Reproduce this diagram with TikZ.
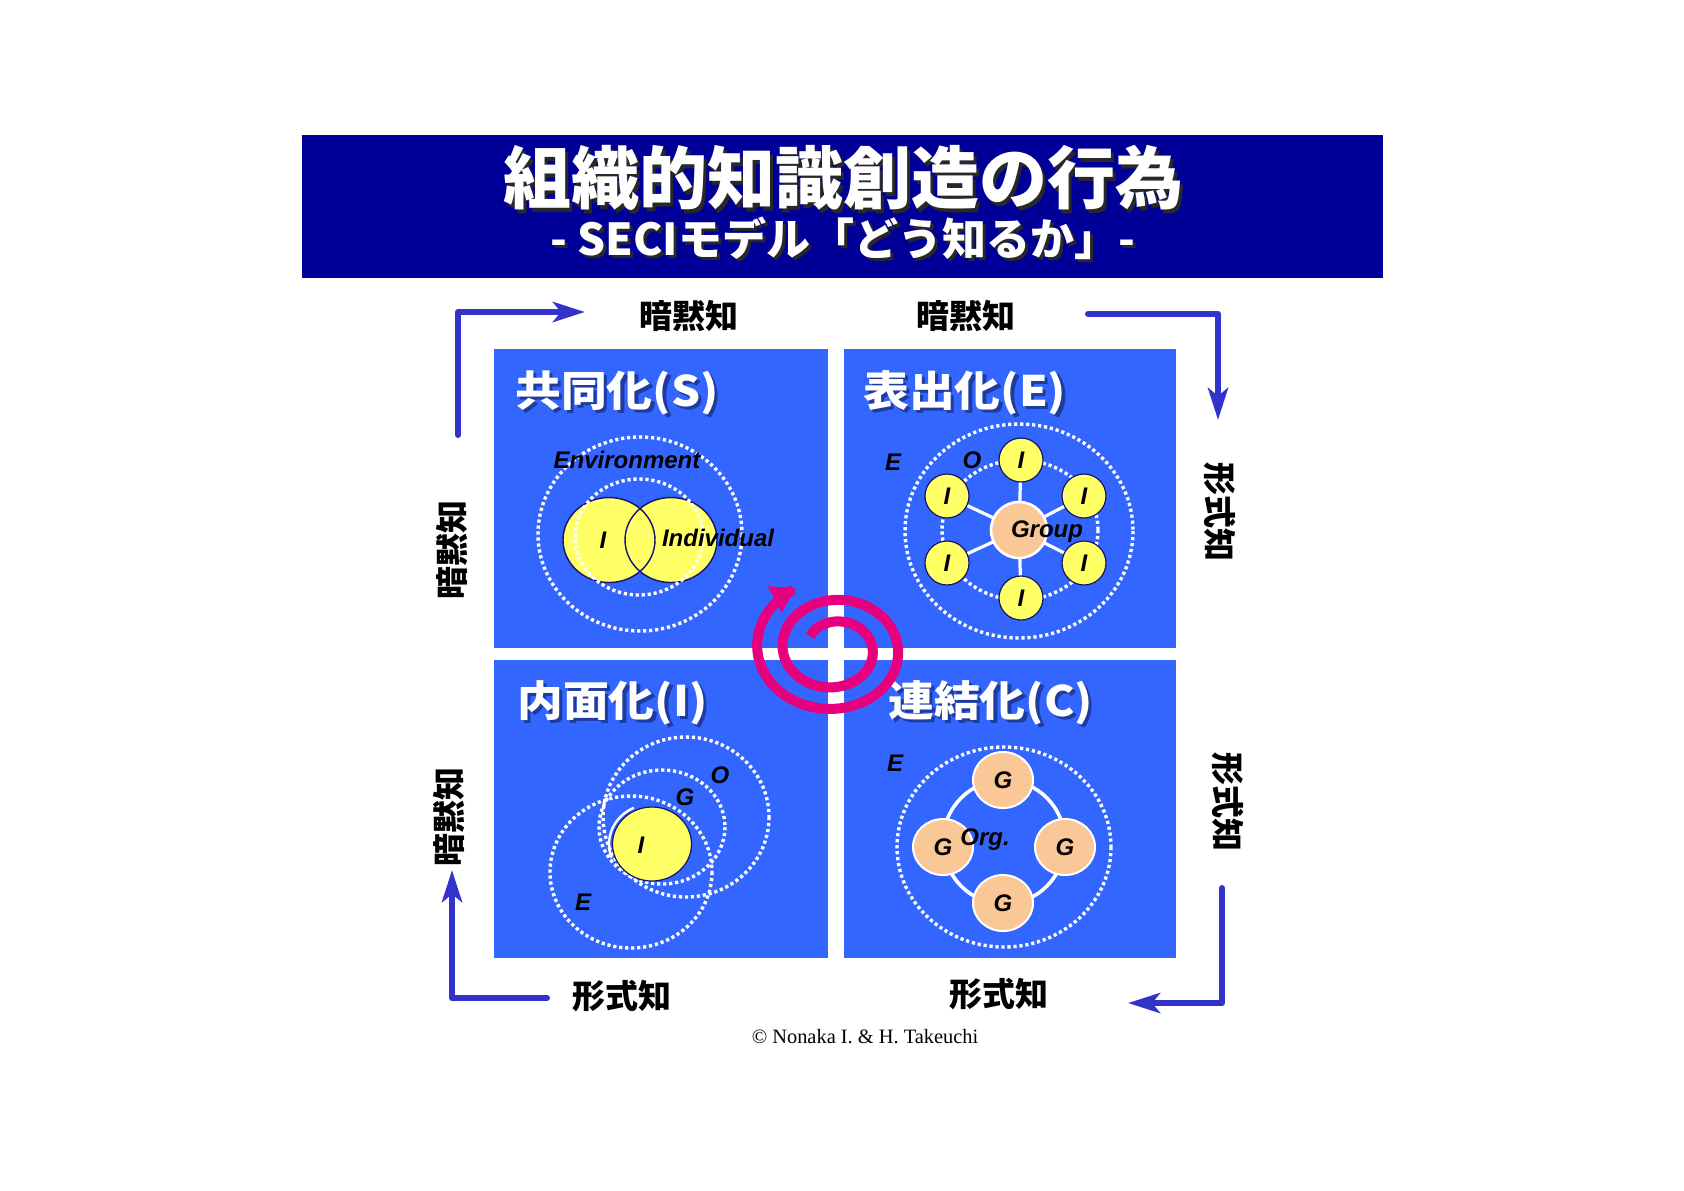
\documentclass[tikz,border=0pt]{standalone}
\usepackage{fontspec}
\setmainfont{Liberation Sans}
\newfontfamily\jp{Noto Sans CJK JP}
\newfontfamily\serifcopy{Liberation Serif}
\usetikzlibrary{arrows.meta,shapes.geometric}
\definecolor{banner}{RGB}{0,0,153}
\definecolor{quadblue}{RGB}{51,102,255}
\definecolor{yel}{RGB}{255,255,102}
\definecolor{peach}{RGB}{250,200,150}
\definecolor{navyline}{RGB}{20,20,110}
\definecolor{arrowblue}{RGB}{51,51,204}
\definecolor{spiralc}{RGB}{230,0,126}
\definecolor{qshadow}{RGB}{30,60,160}
\definecolor{tshadow}{RGB}{40,40,40}
\newcommand\shtext[3]{\makebox[0pt][l]{\hspace*{#1}\raisebox{-#1}{\color{#2}#3}}#3}
\pgfdeclarelayer{back}
\pgfdeclarelayer{mid}
\pgfsetlayers{back,mid,main}
\tikzset{
  quad/.style={fill=quadblue},
  dotring/.style={draw=white, line width=1.7pt, dash pattern=on 1.6pt off 1.4pt},
  inode/.style={circle, fill=yel, draw=navyline, line width=0.6pt, minimum size=22pt, inner sep=0pt,
    font=\bfseries\itshape\fontsize{12}{14}\selectfont},
  gnode/.style={ellipse, fill=peach, draw=white, line width=1pt, minimum width=30pt, minimum height=28pt, inner sep=0pt,
    font=\bfseries\itshape\fontsize{12}{14}\selectfont},
  lab/.style={font=\bfseries\itshape\fontsize{12}{14}\selectfont, text=black, inner sep=0pt},
  spoke/.style={draw=white, line width=1.6pt},
  qtitle/.style={anchor=west, text=white, inner sep=0pt, font=\jp\bfseries\fontsize{21}{24}\selectfont},
  kl/.style={font=\jp\bfseries\fontsize{16.5}{18}\selectfont, text=black, inner sep=0pt},
  cyc/.style={draw=arrowblue, line width=3pt, line join=round, line cap=round,
    -{Stealth[length=16pt, width=10pt, inset=4pt]}},
  spiralarrow/.style={draw=spiralc, line width=5pt, -{Triangle[length=12pt, width=14pt]}}
}
\newcommand\qt[1]{\scalebox{1.09}[1]{\shtext{1.5pt}{qshadow}{#1}}}
\begin{document}
\begin{tikzpicture}[x=0.5pt,y=-0.5pt]
\useasboundingbox (0,0) rectangle (1684,1190);
\begin{pgfonlayer}{back}
\fill[white] (0,0) rectangle (1684,1190);
\fill[banner] (302,135) rectangle (1383,278);
\fill[quad] (494,349) rectangle (828,648);
\fill[quad] (844,349) rectangle (1176,648);
\fill[quad] (494,660) rectangle (828,958);
\fill[quad] (844,660) rectangle (1176,958);
\end{pgfonlayer}
\node[text=white, inner sep=0pt, font=\jp\bfseries\fontsize{34}{40}\selectfont] (title1) at (843,180)
  {\shtext{1.8pt}{tshadow}{組織的知識創造の行為}};
\node[text=white, inner sep=0pt, font=\jp\bfseries\fontsize{22}{26}\selectfont] (title2) at (843,240)
  {\shtext{1.5pt}{tshadow}{- SECIモデル「どう知るか」-}};
\node[qtitle] (qS) at (515,394) {\qt{共同化(S)}};
\node[qtitle] (qE) at (863,394) {\qt{表出化(E)}};
\node[qtitle] (qI) at (517,704) {\qt{内面化(I)}};
\node[qtitle] (qC) at (888,704) {\qt{連結化(C)}};
% ---- Socialization
\draw[dotring] (640,534) ellipse (102 and 97);
\node[ellipse, fill=yel, minimum width=46pt, minimum height=42.5pt, inner sep=0pt] (sy1) at (609,540) {};
\node[ellipse, fill=yel, minimum width=46pt, minimum height=42.5pt, inner sep=0pt] (sy2) at (671,540) {};
\draw[navyline, line width=0.7pt] (sy1.center) ellipse (46 and 42.5);
\draw[navyline, line width=0.7pt] (sy2.center) ellipse (46 and 42.5);
\draw[dotring] (639,537) ellipse (64 and 58);
\node[lab] (envS) at (627,460) {Environment};
\node[lab] (iS) at (603,540) {I};
\node[lab] (indS) at (718,538) {Individual};
% ---- Externalization
\node[gnode, circle, minimum size=28pt, line width=1.3pt] (grp) at (1019,530) {};
\node[inode] (e1) at (1021,460) {I};
\node[inode] (e2) at (947,496) {I};
\node[inode] (e3) at (1084,496) {I};
\node[inode] (e4) at (947,563) {I};
\node[inode] (e5) at (1084,563) {I};
\node[inode] (e6) at (1021,598) {I};
\node[lab] (grpl) at (1047,532) {Group};
\begin{pgfonlayer}{mid}
\draw[dotring] (1019,531) ellipse (114 and 107);
\draw[dotring] (1020,530) ellipse (78 and 70);
\foreach \n in {e1,e2,e3,e4,e5,e6} \draw[spoke] (grp.center) -- (\n.center);
\end{pgfonlayer}
\node[lab] (eE) at (893,462) {E};
\node[lab] (eO) at (972,460) {O};
% ---- Internalization
\draw[dotring] (686,817) ellipse (83 and 80);
\draw[dotring] (662,827) ellipse (63 and 57);
\draw[dotring] (631,872) ellipse (81 and 76);
\node[ellipse, fill=yel, draw=navyline, line width=0.6pt, minimum width=39.5pt, minimum height=37pt, inner sep=0pt] (iy) at (652,844) {};
\draw[white, line width=1.2pt] (iy.center) ++(160:43 and 40) arc[start angle=160, end angle=245, x radius=43, y radius=40];
\node[lab] (iI) at (641,845) {I};
\node[lab] (iG) at (685,797) {G};
\node[lab] (iO) at (720,775) {O};
\node[lab] (iE) at (583,902) {E};
% ---- Combination
\draw[dotring] (1004,847) ellipse (107 and 100);
\draw[white, line width=1.8pt] (1004,842) ellipse (61 and 62);
\node[gnode] (c1) at (1003,780) {G};
\node[gnode] (c2) at (943,847) {G};
\node[gnode] (c3) at (1065,847) {G};
\node[gnode] (c4) at (1003,903) {G};
\node[lab] (org) at (985,840) {Org.};
\node[lab] (cE) at (895,763) {E};
% ---- spiral
\draw[spiralarrow] plot[domain=212:962, samples=300, smooth, variable=\t]
  ({834+(38.6+(\t-360)*0.0706)*cos(\t)}, {649+0.85*(38.6+(\t-360)*0.0706)*sin(\t)});
% ---- cycle arrows
\coordinate (a1s) at (458,435); \coordinate (a1c) at (458,312); \coordinate (a1e) at (585,312);
\coordinate (a2s) at (1088,314); \coordinate (a2c) at (1218,314); \coordinate (a2e) at (1218,420);
\coordinate (a3s) at (1222,888); \coordinate (a3c) at (1222,1003); \coordinate (a3e) at (1128,1003);
\coordinate (a4s) at (547,998); \coordinate (a4c) at (452,998); \coordinate (a4e) at (452,870);
\draw[cyc] (a1s) -- (a1c) -- (a1e);
\draw[cyc] (a2s) -- (a2c) -- (a2e);
\draw[cyc] (a3s) -- (a3c) -- (a3e);
\draw[cyc] (a4s) -- (a4c) -- (a4e);
% ---- labels
\node[kl] (k1) at (689,316) {暗黙知};
\node[kl] (k2) at (966,316) {暗黙知};
\node[kl] (k3) at (622,996) {形式知};
\node[kl] (k4) at (999,994) {形式知};
\node[kl, rotate=90] (k5) at (452,550) {暗黙知};
\node[kl, rotate=90] (k6) at (449,817) {暗黙知};
\node[kl, rotate=-90] (k7) at (1220,512) {形式知};
\node[kl, rotate=-90] (k8) at (1228,802) {形式知};
\node[font=\serifcopy\fontsize{10.2}{12}\selectfont, inner sep=0pt] (copy) at (865,1037) {© Nonaka I. \& H. Takeuchi};
\end{tikzpicture}
\end{document}
